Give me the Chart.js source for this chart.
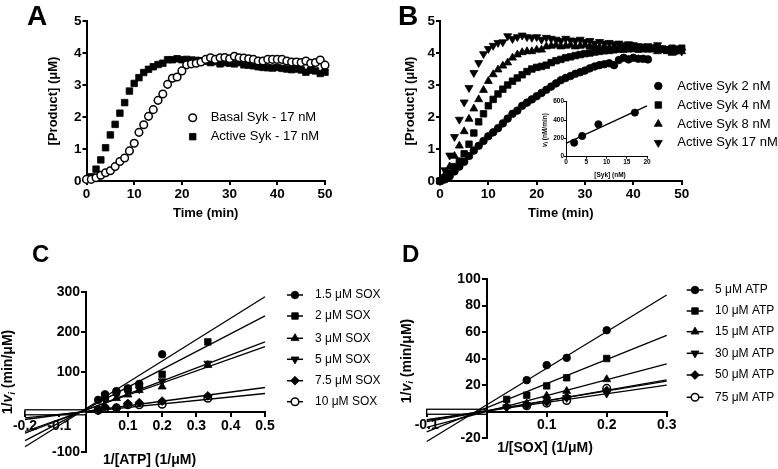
<!DOCTYPE html>
<html><head><meta charset="utf-8">
<script src="https://cdn.jsdelivr.net/npm/chart.js@4.4.1/dist/chart.umd.min.js"></script>
<style>
html,body{margin:0;padding:0;background:#fff;}
body{width:778px;height:469px;position:relative;overflow:hidden;}
canvas{position:absolute;}
</style></head><body>
<canvas id="cA" width="389" height="230" style="left:0px;top:0px"></canvas>
<canvas id="cB" width="389" height="230" style="left:389px;top:0px"></canvas>
<canvas id="cIn" width="120" height="90" style="left:538px;top:95px"></canvas>
<canvas id="cC" width="389" height="239" style="left:0px;top:230px"></canvas>
<canvas id="cD" width="389" height="239" style="left:389px;top:230px"></canvas>
<script>
// ---------------- Panel A data ----------------
const timeA = [0,1,2,3,4,5,6,7,8,9,10,11,12,13,14,15,16,17,18,19,20,21,22,23,24,25,26,27,28,29,30,31,32,33,34,35,36,37,38,39,40,41,42,43,44,45,46,47,48,49,50];
const basalSyk17 = [0.05,0.05,0.1,0.18,0.26,0.32,0.45,0.61,0.72,0.94,1.18,1.52,1.76,2.02,2.23,2.52,2.72,3.02,3.21,3.25,3.44,3.63,3.66,3.68,3.72,3.8,3.85,3.8,3.85,3.86,3.82,3.9,3.85,3.84,3.82,3.8,3.75,3.75,3.8,3.8,3.8,3.8,3.75,3.72,3.72,3.7,3.75,3.68,3.7,3.78,3.62];
const timeActiveA = [1,2,3,4,5,6,7,8,9,10,11,12,13,14,15,16,17,18,19,20,21,22,23,24,25,26,27,28,29,30,31,32,33,34,35,36,37,38,39,40,41,42,43,44,45,46,47,48,49,50];
const activeSyk17 = [0.13,0.37,0.66,1.04,1.44,1.77,2.12,2.45,2.81,3.05,3.23,3.39,3.49,3.57,3.64,3.68,3.79,3.79,3.82,3.79,3.8,3.78,3.77,3.76,3.74,3.7,3.73,3.66,3.7,3.68,3.66,3.7,3.63,3.62,3.6,3.57,3.55,3.54,3.53,3.55,3.52,3.5,3.48,3.5,3.47,3.4,3.46,3.44,3.36,3.4];

// ---------------- Panel B data ----------------
const timeB = [0,1,2,3,4,5,6,7,8,9,10,11,12,13,14,15,16,17,18,19,20,21,22,23,24,25,26,27,28,29,30,31,32,33,34,35,36,37,38,39,40,41,42,43,44,45,46,47,48,49,50];
const activeSyk2nM = [0,0.05,0.15,0.3,0.45,0.6,0.78,0.95,1.1,1.25,1.4,1.52,1.65,1.8,1.95,2.1,2.2,2.35,2.45,2.55,2.65,2.75,2.85,2.95,3.05,3.15,3.22,3.28,3.35,3.4,3.45,3.52,3.58,3.62,3.65,3.68,3.62,3.78,3.85,3.8,3.85,3.82,3.82,3.8];
const activeSyk4nM = [0,0.1,0.25,0.45,0.62,0.85,1.15,1.5,1.85,2.1,2.35,2.55,2.72,2.87,3.0,3.12,3.22,3.32,3.42,3.5,3.55,3.58,3.62,3.7,3.76,3.8,3.85,3.88,3.92,3.95,3.98,4.0,4.03,4.05,4.07,4.08,4.1,4.12,4.12,4.13,4.14,4.12,4.15,4.13,4.15,4.15,4.12,4.1,4.15,4.12,4.15];
const activeSyk8nM = [0,0.2,0.45,0.78,1.1,1.55,1.94,2.26,2.55,2.84,3.12,3.33,3.48,3.6,3.7,3.85,3.95,4.02,4.05,4.05,4.1,4.1,4.2,4.22,4.25,4.2,4.22,4.25,4.2,4.22,4.25,4.2,4.22,4.18,4.2,4.15,4.2,4.18,4.15,4.18,4.2,4.15,4.1,4.12,4.1,4.05,4.1,4.05,4.0,4.05,4.05];
const activeSyk17nM = [0,0.34,0.8,1.38,1.92,2.46,2.91,3.38,3.69,3.97,4.13,4.23,4.32,4.34,4.53,4.44,4.5,4.55,4.5,4.48,4.5,4.42,4.48,4.45,4.42,4.38,4.45,4.4,4.38,4.42,4.35,4.38,4.3,4.35,4.3,4.32,4.28,4.3,4.25,4.28,4.25,4.22,4.2,4.22,4.18,4.25,4.15,4.12,4.1,4.08,4.05];
// inset
const sykConc = [2,4,8,17];
const viRate = [153,226,354,481];
const sykFitX = [0,20];
const viFit = [146,554];

// ---------------- Panel C data ----------------
const invATP = [0.0133,0.0333,0.0667,0.1,0.1333,0.2,0.3333];
const sox1_5 = [31,45,53,60,71,145,null];
const sox2 = [null,41,50,58,68,95,176];
const sox3 = [null,35,35,44,55,64,118];
const sox5 = [null,30,44,50,58,78,122];
const sox7_5 = [5,13,11,22,24,28,41];
const sox10 = [5,10,11,19,19,20,35];
const fitXC = [-0.2,0.5];
const fitSox1_5 = [-86,289];
const fitSox2 = [-71,241];
const fitSox3 = [-52,176];
const fitSox5 = [-48,164];
const fitSox7_5 = [-18,62];
const fitSox10 = [-14,47];

// ---------------- Panel D data ----------------
const invSOX = [0.0333,0.0667,0.1,0.1333,0.2];
const atp5 = [null,23.8,35.1,40.6,61.4];
const atp10 = [9.3,12.5,19.5,25.6,40.1];
const atp15 = [4.3,6.3,12,15.6,24.4];
const atp30 = [3.5,5,9,10.5,13.8];
const atp50 = [3.5,5,7.5,11,16];
const atp75 = [null,4.5,6.5,8.5,17.6];
const fitXD = [-0.1,0.3];
const fitAtp5 = [-22.4,88];
const fitAtp10 = [-15.2,57.5];
const fitAtp15 = [-11.7,36];
const fitAtp30 = [-6,20];
const fitAtp50 = [-7.5,24];
const fitAtp75 = [-6.5,23];

// ---------------- helpers ----------------
const FONT = '"Liberation Sans", Arial, Helvetica, sans-serif';
const BLACK = '#000';
function pts(xs, ys){ const out=[]; for(let i=0;i<xs.length;i++){ if(ys[i]!==null && ys[i]!==undefined) out.push({x:xs[i], y:ys[i]}); } return out; }

// linear scale whose y labels keep their tick gap when the axis is placed at a value
class CrossLinearScale extends Chart.LinearScale {
  _computeLabelItems(chartArea){
    const items = super._computeLabelItems(chartArea);
    const pos = this.options.position;
    if (this.axis === 'y' && pos && typeof pos === 'object') {
      const shift = (this.options.grid.drawTicks ? this.options.grid.tickLength : 0) + this.options.ticks.padding + this.options.border.width/2;
      for (const it of items) { const t = it.options.translation; it.options.translation = [t[0]-shift, t[1]]; }
    }
    return items;
  }
}
CrossLinearScale.id = 'crossLinear';
CrossLinearScale.defaults = Chart.LinearScale.defaults;
Chart.register(CrossLinearScale);

const STYLES = {
  circle:{pointStyle:'circle', radius:3.8, fill:BLACK, rot:0},
  open:{pointStyle:'circle', radius:3.8, fill:'#fff', rot:0},
  square:{pointStyle:'rect', radius:4.6, fill:BLACK, rot:0},
  up:{pointStyle:'triangle', radius:4.6, fill:BLACK, rot:0},
  down:{pointStyle:'triangle', radius:4.6, fill:BLACK, rot:180},
  diamond:{pointStyle:'rectRot', radius:4.4, fill:BLACK, rot:0}
};
function markerDs(data, st, scale){
  const s = STYLES[st]; const r = s.radius*(scale||1);
  return {data, showLine:false, pointStyle:s.pointStyle, pointRadius:r, pointHoverRadius:r, pointRotation:s.rot,
    pointBackgroundColor:s.fill, pointBorderColor:BLACK, pointBorderWidth:(st==='open'?1.5:0.8), clip:false};
}
function lineDs(data){
  return {data, showLine:true, borderColor:BLACK, borderWidth:1.3, pointRadius:0, pointHoverRadius:0, fill:false, clip:false};
}
function drawMarker(ctx, st, x, y, scale){
  const s = STYLES[st];
  ctx.save();
  ctx.fillStyle = s.fill; ctx.strokeStyle = BLACK; ctx.lineWidth = (st==='open'?1.5:0.8);
  Chart.helpers.drawPoint(ctx, {pointStyle:s.pointStyle, radius:s.radius*(scale||1), rotation:s.rot, borderWidth:1}, x, y);
  ctx.restore();
}
function text(ctx, s, x, y, font, align, base){
  ctx.font = font; ctx.fillStyle = BLACK; ctx.textAlign = align||'left'; ctx.textBaseline = base||'middle';
  ctx.fillText(s, x, y);
}
function vtext(ctx, s, cx, cy, font){
  ctx.save(); ctx.translate(cx, cy); ctx.rotate(-Math.PI/2);
  text(ctx, s, 0, 0, font, 'center', 'middle'); ctx.restore();
}
// rotated "1/v_i (min/uM)" style title with italic subscript
function viTitle(ctx, cx, cy, size, pre, post){
  ctx.save(); ctx.translate(cx, cy); ctx.rotate(-Math.PI/2);
  const fB = 'bold '+size+'px '+FONT, fI = 'italic bold '+size+'px '+FONT, fS = 'italic bold '+(size*0.7)+'px '+FONT;
  ctx.font=fB; const w1=ctx.measureText(pre).width;
  ctx.font=fI; const w2=ctx.measureText('v').width;
  ctx.font=fS; const w3=ctx.measureText('i').width;
  ctx.font=fB; const w4=ctx.measureText(post).width;
  let x = -(w1+w2+w3+w4)/2;
  text(ctx, pre, x, 0, fB, 'left', 'middle'); x+=w1;
  text(ctx, 'v', x, 0, fI, 'left', 'middle'); x+=w2;
  text(ctx, 'i', x, size*0.28, fS, 'left', 'middle'); x+=w3;
  text(ctx, post, x, 0, fB, 'left', 'middle');
  ctx.restore();
}
function axis(min, max, step, fs, extra){
  return Object.assign({
    type:'linear', min, max,
    ticks:{stepSize:step, color:BLACK, font:{family:FONT, size:fs, weight:'bold'}, padding:1, maxRotation:0, autoSkip:false},
    grid:{display:true, drawOnChartArea:false, drawTicks:true, tickLength:4, color:BLACK, lineWidth:2},
    border:{display:true, color:BLACK, width:2}
  }, extra||{});
}
function baseOpts(padding, scales){
  return {responsive:false, animation:false, devicePixelRatio:1, events:[],
    layout:{padding}, plugins:{legend:{display:false}, tooltip:{enabled:false}}, scales};
}
function noZero(s){ s.ticks = s.ticks.filter(t => Math.abs(t.value) > 1e-9); }

// ---------------- Panel A ----------------
new Chart(document.getElementById('cA'), {
  type:'scatter',
  data:{datasets:[ markerDs(pts(timeA, basalSyk17),'open'), markerDs(pts(timeActiveA, activeSyk17),'square') ]},
  options: baseOpts({left:0,right:64,top:21,bottom:0}, {
    x: axis(0,50,10,13.5,{afterFit:s=>{s.height=49;}}),
    y: axis(0,5,1,13.5,{afterFit:s=>{s.width=86.5;}})
  }),
  plugins:[{id:'decoA', afterDraw(chart){ const c=chart.ctx; c.save();
    text(c,'A',27,25,'bold 28px '+FONT,'left','alphabetic');
    text(c,'Time (min)',205.7,213.3,'bold 13px '+FONT,'center');
    vtext(c,'[Product] (\u03bcM)',53,101,'bold 13px '+FONT);
    drawMarker(c,'open',192.7,117.7); text(c,'Basal Syk - 17 nM',210.7,117.7,'13px '+FONT);
    drawMarker(c,'square',192.7,136.7); text(c,'Active Syk - 17 nM',210.7,136.7,'13px '+FONT);
    c.restore(); }}]
});

// ---------------- Panel B ----------------
new Chart(document.getElementById('cB'), {
  type:'scatter',
  data:{datasets:[
    markerDs(pts(timeB, activeSyk2nM),'circle'),
    markerDs(pts(timeB, activeSyk4nM),'square'),
    markerDs(pts(timeB, activeSyk8nM),'up'),
    markerDs(pts(timeB, activeSyk17nM),'down')
  ]},
  options: baseOpts({left:0,right:96.3,top:21,bottom:0}, {
    x: axis(0,50,10,13.5,{afterFit:s=>{s.height=49;}}),
    y: axis(0,5,1,13.5,{afterFit:s=>{s.width=51;}})
  }),
  plugins:[{id:'decoB', afterDraw(chart){ const c=chart.ctx; c.save();
    text(c,'B',9,25,'bold 28px '+FONT,'left','alphabetic');
    text(c,'Time (min)',171.8,213.3,'bold 13px '+FONT,'center');
    vtext(c,'[Product] (\u03bcM)',21,101,'bold 13px '+FONT);
    const rows=[86,105,124,142.7], labs=['Active Syk 2 nM','Active Syk 4 nM','Active Syk 8 nM','Active Syk 17 nM'], st=['circle','square','up','down'];
    for(let i=0;i<4;i++){ drawMarker(c,st[i],269.3,rows[i]); text(c,labs[i],288.3,rows[i],'13px '+FONT); }
    c.restore(); }}]
});

// ---------------- Inset ----------------
new Chart(document.getElementById('cIn'), {
  type:'scatter',
  data:{datasets:[ markerDs(pts(sykConc, viRate),'circle',0.95), lineDs(pts(sykFitX, viFit)) ]},
  options: baseOpts({left:0,right:11,top:6.7,bottom:0}, {
    x: (()=>{const a=axis(0,20,5,6.5,{afterFit:s=>{s.height=28.3;}}); a.grid.tickLength=2; a.grid.lineWidth=1; a.border.width=1; a.ticks.padding=0; return a;})(),
    y: (()=>{const a=axis(0,600,200,6.5,{afterFit:s=>{s.width=28;}}); a.grid.tickLength=2; a.grid.lineWidth=1; a.border.width=1; a.ticks.padding=0; return a;})()
  }),
  plugins:[{id:'decoIn', afterDraw(chart){ const c=chart.ctx; c.save();
    text(c,'[Syk] (nM)',72,80,'bold 6.5px '+FONT,'center');
    viTitle(c,7,35,6.5,'',' (nM/min)');
    c.restore(); }}]
});

// ---------------- Panel C ----------------
function hollowAxis(id){ return {id, beforeDatasetsDraw(chart){
  const c=chart.ctx, xs=chart.scales.x, ys=chart.scales.y, y0=ys.getPixelForValue(0);
  const yAxisX = xs.getPixelForValue(chart.options.scales.y.position.x);
  c.save(); c.fillStyle='#fff'; c.strokeStyle=BLACK; c.lineWidth=1.3;
  c.fillRect(chart.chartArea.left, y0-2.5, yAxisX-chart.chartArea.left, 5);
  c.strokeRect(chart.chartArea.left, y0-2.5, yAxisX-chart.chartArea.left, 5);
  c.restore(); }}; }

new Chart(document.getElementById('cC'), {
  type:'scatter',
  data:{datasets:[
    lineDs(pts(fitXC, fitSox1_5)), lineDs(pts(fitXC, fitSox2)), lineDs(pts(fitXC, fitSox3)),
    lineDs(pts(fitXC, fitSox5)), lineDs(pts(fitXC, fitSox7_5)), lineDs(pts(fitXC, fitSox10)),
    markerDs(pts(invATP, sox1_5),'circle'), markerDs(pts(invATP, sox2),'square'), markerDs(pts(invATP, sox3),'up'),
    markerDs(pts(invATP, sox5),'down'), markerDs(pts(invATP, sox7_5),'diamond'), markerDs(pts(invATP, sox10),'open')
  ]},
  options: baseOpts({left:25,right:124,top:62.3,bottom:16.7}, {
    x: axis(-0.2,0.5,0.1,14,{type:'crossLinear', position:{y:0}, afterBuildTicks:noZero}),
    y: axis(-100,300,100,14,{type:'crossLinear', position:{x:-0.022}, afterBuildTicks:noZero})
  }),
  plugins:[hollowAxis('hC'),{id:'decoC', afterDraw(chart){ const c=chart.ctx; c.save();
    text(c,'C',32,32,'bold 24px '+FONT,'left','alphabetic');
    text(c,'1/[ATP] (1/\u03bcM)',149.5,230,'bold 14px '+FONT,'center');
    viTitle(c,8,142,14,'1/',' (min/\u03bcM)');
    const rows=[65,86,108.3,129.3,150.7,171.7], labs=['1.5 \u03bcM SOX','2 \u03bcM SOX','3 \u03bcM SOX','5 \u03bcM SOX','7.5 \u03bcM SOX','10 \u03bcM SOX'], st=['circle','square','up','down','diamond','open'];
    for(let i=0;i<6;i++){ c.strokeStyle=BLACK; c.lineWidth=1.5; c.beginPath(); c.moveTo(287,rows[i]); c.lineTo(303,rows[i]); c.stroke();
      drawMarker(c,st[i],295,rows[i]); text(c,labs[i],315,rows[i],'12px '+FONT); }
    c.restore(); }}]
});

// ---------------- Panel D ----------------
new Chart(document.getElementById('cD'), {
  type:'scatter',
  data:{datasets:[
    lineDs(pts(fitXD, fitAtp5)), lineDs(pts(fitXD, fitAtp10)), lineDs(pts(fitXD, fitAtp15)),
    lineDs(pts(fitXD, fitAtp30)), lineDs(pts(fitXD, fitAtp50)), lineDs(pts(fitXD, fitAtp75)),
    markerDs(pts(invSOX, atp5),'circle'), markerDs(pts(invSOX, atp10),'square'), markerDs(pts(invSOX, atp15),'up'),
    markerDs(pts(invSOX, atp30),'down'), markerDs(pts(invSOX, atp50),'diamond'), markerDs(pts(invSOX, atp75),'open')
  ]},
  options: baseOpts({left:37.7,right:111.3,top:49,bottom:30.7}, {
    x: axis(-0.1,0.3,0.1,14,{type:'crossLinear', position:{y:0}, afterBuildTicks:noZero}),
    y: axis(-20,100,20,14,{type:'crossLinear', position:{x:0}, afterBuildTicks:noZero})
  }),
  plugins:[hollowAxis('hD'),{id:'decoD', afterDraw(chart){ const c=chart.ctx; c.save();
    text(c,'D',13,32,'bold 24px '+FONT,'left','alphabetic');
    text(c,'1/[SOX] (1/\u03bcM)',156,218.3,'bold 14px '+FONT,'center');
    viTitle(c,17.7,131,14,'1/',' (min/\u03bcM)');
    const rows=[60,81,101.7,123.3,145,167.3], labs=['5 \u03bcM ATP','10 \u03bcM ATP','15 \u03bcM ATP','30 \u03bcM ATP','50 \u03bcM ATP','75 \u03bcM ATP'], st=['circle','square','up','down','diamond','open'];
    for(let i=0;i<6;i++){ c.strokeStyle=BLACK; c.lineWidth=1.5; c.beginPath(); c.moveTo(297.7,rows[i]); c.lineTo(314.3,rows[i]); c.stroke();
      drawMarker(c,st[i],306,rows[i]); text(c,labs[i],326,rows[i],'12px '+FONT); }
    c.restore(); }}]
});
</script>
</body></html>
